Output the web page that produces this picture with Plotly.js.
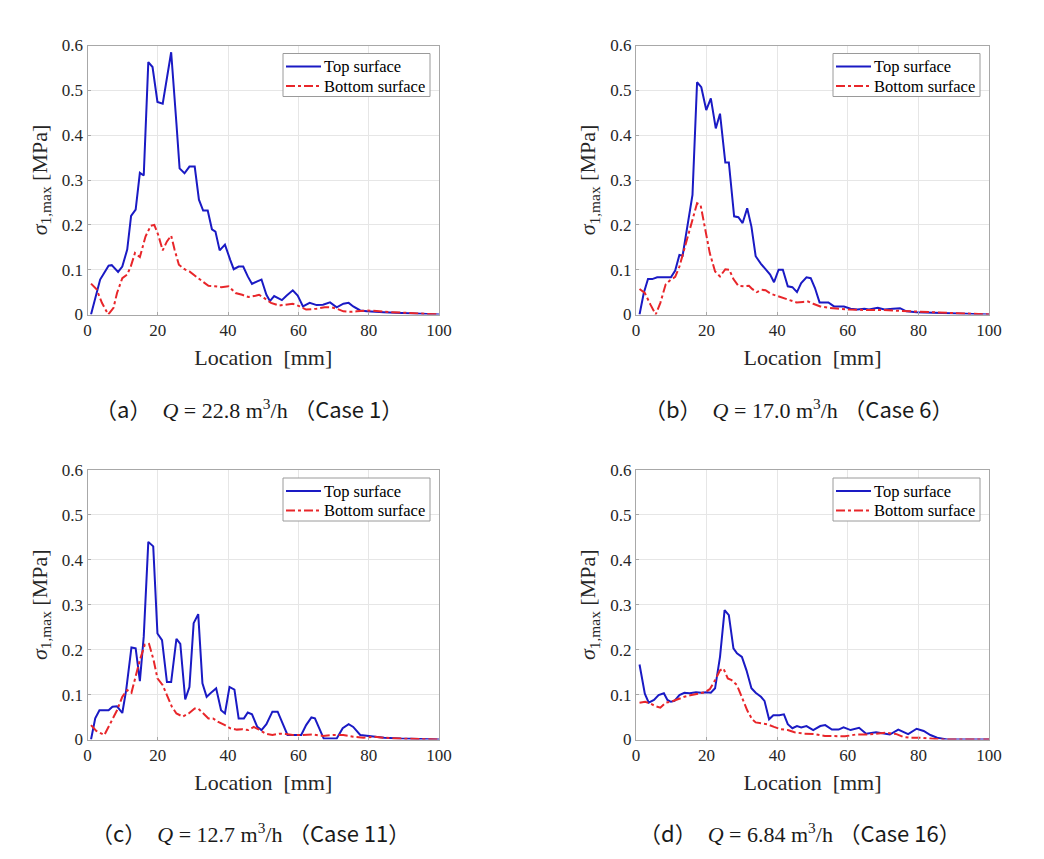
<!DOCTYPE html>
<html>
<head>
<meta charset="utf-8">
<script src="https://cdn.plot.ly/plotly-3.0.1.min.js"></script>
<style>html,body{margin:0;padding:0;background:#fff;}</style>
</head>
<body>
<div id="chart" style="width:1044px;height:859px;"></div>
<script>
// ---------- data ----------
const xTicks = [0, 20, 40, 60, 80, 100];
const yTicks = [0, 0.1, 0.2, 0.3, 0.4, 0.5, 0.6];
const seriesNames = ["Top surface", "Bottom surface"];
const captions = [
  ["a", "22.8", "1"],
  ["b", "17.0", "6"],
  ["c", "12.7", "11"],
  ["d", "6.84", "16"]
];

// (a) Case 1
const locA_top = [1.0,3.6,6.0,6.9,8.7,9.9,11.3,12.4,13.7,14.9,16.0,17.3,18.5,19.9,21.4,23.8,25.3,26.2,27.6,29.0,30.5,31.7,32.9,34.2,35.4,36.4,37.6,39.1,40.6,41.6,43.0,44.3,45.6,46.8,48.3,49.5,50.9,51.9,53.1,55.3,56.6,58.4,59.8,61.3,63.2,65.2,67.0,69.0,70.9,72.8,74.3,75.6,77.6,79.5,84.2,94.0,100];
const sigA_top = [0,0.078,0.109,0.110,0.095,0.107,0.145,0.220,0.234,0.316,0.310,0.563,0.552,0.474,0.470,0.585,0.426,0.326,0.315,0.330,0.330,0.256,0.232,0.232,0.190,0.185,0.143,0.156,0.122,0.101,0.107,0.107,0.085,0.068,0.074,0.078,0.044,0.030,0.041,0.032,0.042,0.054,0.042,0.018,0.026,0.021,0.022,0.027,0.016,0.024,0.026,0.018,0.009,0.007,0.005,0.0015,0];
const locA_bot = [1.0,2.6,4.1,5.9,7.4,8.4,9.9,11.3,12.3,13.5,14.9,16.5,18.0,19.0,20.1,21.4,22.6,23.8,24.8,26.0,27.6,29.0,31.0,32.9,34.4,36.2,38.1,40.1,42.1,44.0,45.8,47.8,48.8,50.2,52.2,54.5,56.4,58.4,60.4,62.2,65.2,67.5,69.4,70.9,72.8,74.8,76.6,79.5,82.2,86.1,90.1,100];
const sigA_bot = [0.069,0.056,0.026,0,0.015,0.048,0.081,0.089,0.107,0.137,0.128,0.174,0.198,0.200,0.178,0.143,0.163,0.176,0.144,0.111,0.101,0.096,0.084,0.072,0.064,0.063,0.061,0.063,0.048,0.044,0.039,0.042,0.044,0.037,0.026,0.020,0.022,0.024,0.018,0.011,0.013,0.016,0.016,0.013,0.007,0.006,0.007,0.009,0.008,0.005,0.004,0];

// (b) Case 6
const locB_top = [1.0,2.2,3.4,4.6,6.0,7.4,8.9,9.9,11.1,12.3,13.2,14.7,16.0,17.3,18.5,19.9,21.2,22.6,23.8,25.3,26.3,27.8,29.0,30.2,31.5,32.7,33.9,35.4,36.6,38.0,39.1,40.4,41.6,43.0,44.3,45.6,46.8,48.3,49.5,50.7,52.0,54.5,56.1,58.9,60.8,62.7,64.7,66.0,68.5,70.4,72.8,74.8,76.6,79.5,84.4,94.0,100];
const sigB_top = [0,0.048,0.079,0.079,0.083,0.083,0.084,0.083,0.098,0.133,0.131,0.204,0.267,0.518,0.507,0.456,0.482,0.415,0.448,0.339,0.339,0.219,0.217,0.204,0.237,0.196,0.130,0.113,0.101,0.089,0.072,0.100,0.100,0.063,0.061,0.050,0.070,0.083,0.081,0.059,0.027,0.027,0.018,0.018,0.013,0.011,0.013,0.011,0.015,0.011,0.013,0.014,0.007,0.005,0.004,0.0015,0];
const locB_bot = [1.0,2.5,4.1,5.6,6.9,8.4,9.6,11.1,12.3,13.4,14.7,15.9,17.3,18.3,19.4,20.9,22.4,23.8,25.3,26.4,27.6,29.0,30.5,32.0,32.9,34.2,35.6,36.7,38.2,40.1,42.1,44.0,45.5,47.3,48.8,50.2,52.2,54.5,57.3,60.4,65.2,69.9,74.8,79.5,84.4,94.0,100];
const sigB_bot = [0.057,0.048,0.022,0,0.026,0.067,0.076,0.084,0.107,0.137,0.174,0.211,0.248,0.244,0.198,0.137,0.096,0.085,0.101,0.100,0.079,0.064,0.063,0.064,0.057,0.050,0.055,0.054,0.046,0.041,0.037,0.032,0.027,0.028,0.029,0.024,0.018,0.015,0.013,0.011,0.010,0.010,0.008,0.007,0.005,0.002,0];

// (c) Case 11
const locC_top = [1.0,2.2,3.4,6.0,7.1,8.4,9.9,11.0,12.5,13.7,14.9,16.0,17.3,18.7,19.9,21.2,22.6,23.8,25.3,26.4,27.8,29.0,30.2,31.5,32.7,33.9,35.4,36.6,38.0,39.1,40.4,41.8,43.0,44.5,45.6,46.8,48.3,49.5,50.9,52.6,54.1,55.5,56.9,58.4,60.8,62.2,63.7,64.7,66.0,67.2,70.9,72.6,74.3,75.6,77.6,79.5,81.5,84.4,89.1,100];
const sigC_top = [0,0.047,0.065,0.065,0.073,0.074,0.059,0.110,0.205,0.203,0.130,0.229,0.440,0.430,0.236,0.221,0.128,0.128,0.224,0.213,0.089,0.117,0.259,0.279,0.125,0.095,0.106,0.114,0.065,0.058,0.117,0.111,0.047,0.047,0.060,0.056,0.028,0.021,0.034,0.062,0.062,0.036,0.010,0.010,0.010,0.032,0.049,0.047,0.022,0.002,0.002,0.025,0.034,0.028,0.010,0.008,0.007,0.004,0.002,0];
const locC_bot = [1.0,2.5,4.8,6.4,8.4,9.9,11.3,12.5,13.7,14.9,16.3,17.5,18.8,19.9,21.4,22.6,24.0,25.3,27.1,28.8,30.5,31.5,32.9,34.4,35.7,37.2,39.1,40.6,42.5,44.0,45.8,47.3,48.8,50.7,52.6,54.5,56.4,58.4,61.3,64.2,67.0,69.9,72.8,75.6,78.5,81.5,84.4,89.1,100];
const sigC_bot = [0.032,0.019,0.010,0.036,0.065,0.095,0.110,0.104,0.140,0.177,0.211,0.213,0.177,0.136,0.121,0.097,0.073,0.058,0.051,0.058,0.069,0.069,0.058,0.047,0.047,0.039,0.032,0.025,0.022,0.023,0.021,0.028,0.022,0.013,0.010,0.013,0.012,0.010,0.010,0.011,0.008,0.010,0.010,0.006,0.004,0.006,0.004,0.002,0];

// (d) Case 16
const locD_top = [1.0,1.7,2.5,3.6,5.1,6.4,7.9,8.9,9.9,10.9,12.3,13.7,15.2,17.0,18.5,19.9,21.2,22.4,23.8,25.1,26.3,27.6,28.6,30.0,31.3,32.7,33.9,35.4,36.4,37.7,38.9,40.6,41.9,43.0,44.3,45.6,46.8,48.3,50.2,52.2,53.6,55.5,57.4,58.8,60.8,63.2,65.2,68.0,69.9,71.9,74.3,75.6,77.1,79.5,81.5,83.4,85.3,88.1,100];
const sigD_top = [0.167,0.132,0.102,0.082,0.088,0.099,0.103,0.088,0.084,0.086,0.099,0.104,0.103,0.105,0.104,0.105,0.104,0.114,0.184,0.288,0.277,0.203,0.192,0.184,0.154,0.114,0.104,0.095,0.086,0.045,0.054,0.054,0.056,0.034,0.025,0.030,0.027,0.030,0.021,0.030,0.032,0.022,0.022,0.027,0.021,0.026,0.013,0.016,0.013,0.011,0.022,0.017,0.012,0.024,0.019,0.010,0.004,0,0];
const locD_bot = [1.0,2.6,4.1,5.6,6.9,8.4,9.9,11.8,13.7,15.7,17.5,19.4,20.9,22.4,23.8,24.8,26.0,27.1,28.6,30.0,31.5,32.9,33.9,35.4,37.2,39.1,41.0,43.0,44.9,47.7,50.6,53.5,56.2,59.2,62.2,65.2,68.0,70.9,73.8,75.6,77.6,80.5,83.4,86.2,100];
const sigD_bot = [0.082,0.084,0.080,0.074,0.071,0.082,0.084,0.090,0.095,0.099,0.102,0.105,0.112,0.132,0.154,0.158,0.136,0.132,0.121,0.095,0.065,0.045,0.038,0.036,0.034,0.028,0.023,0.021,0.016,0.013,0.012,0.008,0.008,0.007,0.011,0.011,0.013,0.015,0.012,0.006,0.004,0.004,0.002,0,0];

// ---------- layout geometry (pixels) ----------
const W = 1044, H = 859;
const panels = [
  {x0: 87.5, x1: 439, yTop: 45.5, yBot: 314.5, capX: 249, capY: 408, top: [locA_top, sigA_top], bot: [locA_bot, sigA_bot]},
  {x0: 636,  x1: 989, yTop: 45.5, yBot: 314.5, capX: 798, capY: 408, top: [locB_top, sigB_top], bot: [locB_bot, sigB_bot]},
  {x0: 87.5, x1: 439, yTop: 470,  yBot: 739.5, capX: 250, capY: 832, top: [locC_top, sigC_top], bot: [locC_bot, sigC_bot]},
  {x0: 636,  x1: 989, yTop: 470,  yBot: 739.5, capX: 800, capY: 832, top: [locD_top, sigD_top], bot: [locD_bot, sigD_bot]}
];

const serif = "Liberation Serif, Times New Roman, serif";
const blue = "#1a1ac4", red = "#e8262a";
const traces = [];
const layout = {
  width: W, height: H, autosize: false,
  margin: {l: 0, r: 0, t: 0, b: 0},
  paper_bgcolor: "#ffffff", plot_bgcolor: "#ffffff",
  showlegend: false,
  font: {family: serif, color: "#262626"},
  annotations: [], shapes: []
};
const px = v => v / W, py = v => 1 - v / H;

panels.forEach((p, i) => {
  const n = i + 1;
  const sfx = n === 1 ? "" : String(n);
  const xa = "x" + sfx, ya = "y" + sfx;
  traces.push({
    x: p.top[0], y: p.top[1], xaxis: xa, yaxis: ya,
    type: "scatter", mode: "lines", name: seriesNames[0],
    line: {color: blue, width: 2}
  });
  traces.push({
    x: p.bot[0], y: p.bot[1], xaxis: xa, yaxis: ya,
    type: "scatter", mode: "lines", name: seriesNames[1],
    line: {color: red, width: 2, dash: "dashdot"}
  });
  const axCommon = {
    showline: true, mirror: true, linecolor: "#a8a8a8", linewidth: 1,
    showgrid: true, gridcolor: "#e6e6e6", gridwidth: 1,
    zeroline: false, ticks: "inside", ticklen: 3, tickcolor: "#a8a8a8",
    tickfont: {family: serif, size: 17, color: "#262626"}
  };
  layout["xaxis" + sfx] = Object.assign({}, axCommon, {
    domain: [px(p.x0), px(p.x1)], anchor: ya,
    range: [0, 100], tickvals: xTicks, ticktext: xTicks.map(String),
    title: {text: "Location\u00a0\u00a0[mm]", font: {family: serif, size: 22, color: "#262626"}, standoff: 10}
  });
  layout["yaxis" + sfx] = Object.assign({}, axCommon, {
    domain: [py(p.yBot), py(p.yTop)], anchor: xa,
    range: [0, 0.6], tickvals: yTicks, ticktext: yTicks.map(String),
    title: {text: "<i>σ</i><sub>1,max</sub>\u00a0[MPa]", font: {family: serif, size: 22, color: "#262626"}, standoff: 8}
  });

  // legend box (drawn in paper coordinates)
  const bR = p.x1 - 9, bL = bR - 147, bT = p.yTop + 8, bB = bT + 43;
  layout.shapes.push({type: "rect", xref: "paper", yref: "paper", x0: px(bL), x1: px(bR), y0: py(bB), y1: py(bT),
    line: {color: "#9a9a9a", width: 1}, fillcolor: "#ffffff", layer: "above"});
  const rows = [
    {name: seriesNames[0], color: blue, dash: "solid", yc: p.yTop + 21},
    {name: seriesNames[1], color: red, dash: "dashdot", yc: p.yTop + 40.5}
  ];
  rows.forEach(r => {
    layout.shapes.push({type: "line", xref: "paper", yref: "paper", x0: px(bL + 3), x1: px(bL + 38), y0: py(r.yc), y1: py(r.yc),
      line: {color: r.color, width: 2, dash: r.dash}, layer: "above"});
    layout.annotations.push({xref: "paper", yref: "paper", x: px(bL + 39), y: py(r.yc), xanchor: "left", yanchor: "middle",
      showarrow: false, text: r.name, font: {family: serif, size: 16.5, color: "#000000"}});
  });

  const c = captions[i];
  const cjk = "font-family:Noto Sans CJK KR";
  layout.annotations.push({
    xref: "paper", yref: "paper", x: px(p.capX), y: py(p.capY),
    xanchor: "center", yanchor: "middle", showarrow: false,
    font: {family: serif, size: 22, color: "#1a1a1a"},
    text: '<span style="' + cjk + '">（' + c[0] + '）</span>\u00a0\u00a0<i>Q</i>\u00a0=\u00a0' + c[1] +
          '\u00a0m<sup>3</sup>/h\u00a0<span style="' + cjk + '">（Case\u00a0' + c[2] + '）</span>'
  });
});

Plotly.newPlot("chart", traces, layout, {displayModeBar: false, staticPlot: true});
</script>
</body>
</html>
